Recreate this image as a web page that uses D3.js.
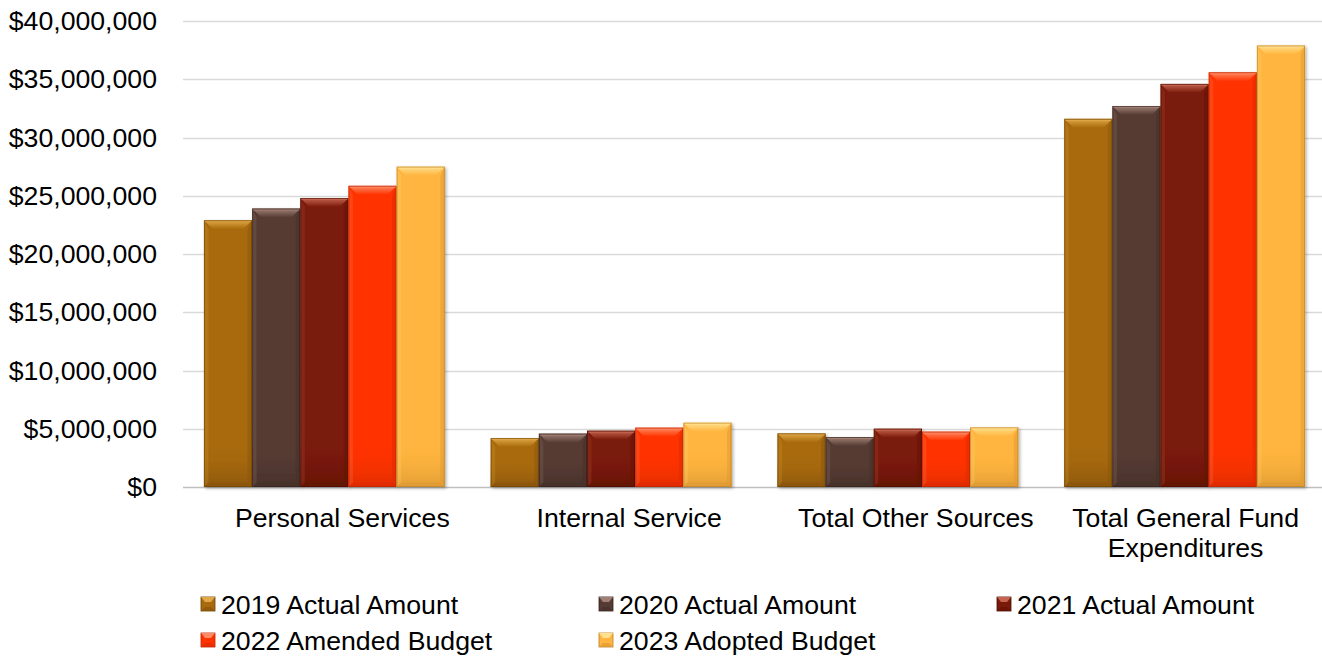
<!DOCTYPE html>
<html>
<head>
<meta charset="utf-8">
<script src="https://cdn.jsdelivr.net/npm/d3@7"></script>
<style>
  html, body { margin: 0; padding: 0; background: #fff; }
  svg { display: block; font-family: Arial, "Liberation Sans", sans-serif; }
  text { font-family: Arial, "Liberation Sans", sans-serif; }
</style>
</head>
<body>
<svg id="chart" width="1322" height="656"></svg>
<script>
// Fund expenditure comparison by category
const categories = ["Personal Services", "Internal Service", "Total Other Sources", "Total General Fund Expenditures"];
const seriesNames = ["2019 Actual Amount", "2020 Actual Amount", "2021 Actual Amount", "2022 Amended Budget", "2023 Adopted Budget"];
const values2019 = [22900000, 4200000, 4600000, 31600000];
const values2020 = [23900000, 4580000, 4290000, 32700000];
const values2021 = [24800000, 4830000, 5000000, 34600000];
const values2022 = [25850000, 5090000, 4750000, 35600000];
const values2023 = [27500000, 5520000, 5120000, 37900000];
const yTicks = [0, 5000000, 10000000, 15000000, 20000000, 25000000, 30000000, 35000000, 40000000];
const seriesValues = [values2019, values2020, values2021, values2022, values2023];

// base / dark / light shades per series
const palette = [
  { base: "#A86A0C", dark: "#8A5508", light: "#E0A848", edge: "#6A4205" },
  { base: "#553B33", dark: "#45302A", light: "#A08075", edge: "#33221D" },
  { base: "#7A1A08", dark: "#621305", light: "#C46450", edge: "#4A0E04" },
  { base: "#FF3300", dark: "#DD2C00", light: "#FF8A64", edge: "#B82200" },
  { base: "#FFB53F", dark: "#DD9A33", light: "#FFE08E", edge: "#B88024" }
];

const svg = d3.select("#chart");
const plot = { left: 181, right: 1328, top: 21, bottom: 487 };

const x0 = d3.scaleBand().domain(categories).range([plot.left, plot.right]).paddingInner(0.16).paddingOuter(0.08);
const x1 = d3.scaleBand().domain(d3.range(seriesNames.length)).range([0, x0.bandwidth()]).padding(0);
const y = d3.scaleLinear().domain([0, 40000000]).range([plot.bottom, plot.top]);

const defs = svg.append("defs");
const shadow = defs.append("filter").attr("id", "shadow").attr("x", "-20%").attr("y", "-20%").attr("width", "140%").attr("height", "140%");
shadow.append("feDropShadow").attr("dx", 1.5).attr("dy", 1.5).attr("stdDeviation", 1.6).attr("flood-color", "#000").attr("flood-opacity", 0.3);

palette.forEach((p, i) => {
  const t = defs.append("linearGradient").attr("id", "top" + i).attr("x1", 0).attr("y1", 0).attr("x2", 0).attr("y2", 1);
  t.append("stop").attr("offset", "0%").attr("stop-color", p.light);
  t.append("stop").attr("offset", "100%").attr("stop-color", p.base);
  const bt = defs.append("linearGradient").attr("id", "bot" + i).attr("x1", 0).attr("y1", 0).attr("x2", 0).attr("y2", 1);
  bt.append("stop").attr("offset", "0%").attr("stop-color", p.base).attr("stop-opacity", 0);
  bt.append("stop").attr("offset", "100%").attr("stop-color", p.dark).attr("stop-opacity", 1);
});

const FONT = "Arial, 'Liberation Sans', sans-serif";
const FS = 26.67;

// gridlines
svg.append("g").selectAll("line").data(yTicks.filter(d => d > 0)).join("line")
  .attr("x1", plot.left + 2).attr("x2", plot.right + 2)
  .attr("y1", d => Math.round(y(d)) + 0.5).attr("y2", d => Math.round(y(d)) + 0.5)
  .attr("stroke", "#D9D9D9").attr("stroke-width", 1.5);

// y axis labels
const yAxis = d3.axisLeft(y).tickValues(yTicks).tickFormat(d => "$" + d3.format(",")(d)).tickSize(0).tickPadding(0);
const yG = svg.append("g").attr("transform", `translate(157,0)`).call(yAxis)
  .attr("font-family", FONT).attr("font-size", FS);
yG.select(".domain").remove();
yG.selectAll("text").attr("fill", "#000");

// draws a bevelled bar
function bevelBar(g, x, yTop, w, h, i) {
  const b = Math.min(9, h / 2, w / 2);
  const p = palette[i];
  const grp = g.append("g").attr("filter", "url(#shadow)");
  grp.append("rect").attr("x", x).attr("y", yTop).attr("width", w).attr("height", h).attr("fill", p.base);
  // darkening toward the foot of the bar
  const fade = Math.min(45, h * 0.6);
  grp.append("rect").attr("x", x).attr("y", yTop + h - fade).attr("width", w).attr("height", fade)
    .attr("fill", `url(#bot${i})`).attr("opacity", 0.85);
  // top bevel
  grp.append("polygon").attr("points", [[x, yTop], [x + w, yTop], [x + w - b, yTop + b], [x + b, yTop + b]].join(" "))
    .attr("fill", `url(#top${i})`);
  // left bevel
  grp.append("polygon").attr("points", [[x, yTop], [x + b * 0.5, yTop + b], [x + b * 0.5, yTop + h - b * 0.5], [x, yTop + h]].join(" "))
    .attr("fill", p.light).attr("opacity", 0.2);
  // right bevel
  grp.append("polygon").attr("points", [[x + w, yTop], [x + w - b * 0.5, yTop + b], [x + w - b * 0.5, yTop + h - b * 0.5], [x + w, yTop + h]].join(" "))
    .attr("fill", p.dark).attr("opacity", 0.5);
  // bottom bevel
  grp.append("polygon").attr("points", [[x, yTop + h], [x + b * 0.5, yTop + h - b * 0.5], [x + w - b * 0.5, yTop + h - b * 0.5], [x + w, yTop + h]].join(" "))
    .attr("fill", p.dark).attr("opacity", 0.6);
  // thin highlight along the top edge
  grp.append("line").attr("x1", x + 1).attr("x2", x + w - 1).attr("y1", yTop + 1.2).attr("y2", yTop + 1.2)
    .attr("stroke", p.light).attr("stroke-width", 1.4);
  grp.append("rect").attr("x", x + 0.5).attr("y", yTop + 0.5).attr("width", w - 1).attr("height", h - 1)
    .attr("fill", "none").attr("stroke", p.edge).attr("stroke-width", 1).attr("opacity", 0.6);
}

// baseline
svg.append("line").attr("x1", plot.left + 2).attr("x2", plot.right + 2)
  .attr("y1", y(0) + 0.5).attr("y2", y(0) + 0.5).attr("stroke", "#BFBFBF").attr("stroke-width", 1.5);

const barsG = svg.append("g");
categories.forEach((c, ci) => {
  seriesValues.forEach((vals, si) => {
    const v = vals[ci];
    const bx = x0(c) + x1(si);
    const top = y(v);
    bevelBar(barsG, bx, top, x1.bandwidth(), y(0) - top, si);
  });
});

// category labels, wrapped into at most two lines; single-line labels sit a bit right of centre
const catLines = {
  "Personal Services": ["Personal Services"],
  "Internal Service": ["Internal Service"],
  "Total Other Sources": ["Total Other Sources"],
  "Total General Fund Expenditures": ["Total General Fund", "Expenditures"]
};
const catG = svg.append("g").attr("font-family", FONT).attr("font-size", FS);
categories.forEach(c => {
  const lines = catLines[c];
  const cx = x0(c) + x0.bandwidth() / 2 + (lines.length === 1 ? 18 : 1);
  const t = catG.append("text").attr("x", cx).attr("y", 527)
    .attr("text-anchor", "middle").attr("fill", "#000");
  lines.forEach((ln, k) => {
    t.append("tspan").attr("x", cx).attr("dy", k === 0 ? 0 : 30).text(ln);
  });
});

// legend
const legendPos = [[201, 604], [599, 604], [997, 604], [201, 640], [599, 640]];
const legG = svg.append("g").attr("font-family", FONT).attr("font-size", FS);
seriesNames.forEach((name, i) => {
  const [lx, ly] = legendPos[i];
  const s = 14;
  const mx = lx, my = ly - s / 2;
  const p = palette[i];
  legG.append("rect").attr("x", mx).attr("y", my).attr("width", s).attr("height", s).attr("fill", p.base)
    .attr("stroke", p.edge).attr("stroke-width", 0.8);
  legG.append("polygon").attr("points", [[mx, my], [mx + s, my], [mx + s - 4, my + 5], [mx + 4, my + 5]].join(" "))
    .attr("fill", p.light);
  legG.append("polygon").attr("points", [[mx, my + s], [mx + 4, my + s - 4], [mx + s - 4, my + s - 4], [mx + s, my + s]].join(" "))
    .attr("fill", p.dark).attr("opacity", 0.7);
  legG.append("text").attr("x", lx + 20).attr("y", ly).attr("dy", "0.36em")
    .attr("fill", "#000").text(name);
});
</script>
</body>
</html>
